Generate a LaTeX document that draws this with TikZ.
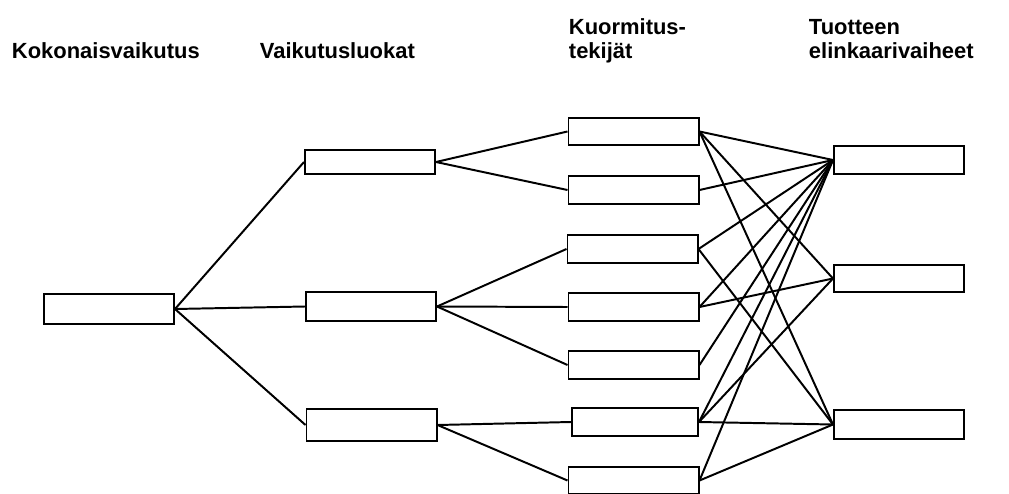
\documentclass[tikz,border=0pt]{standalone}
\usepackage{fontspec}
\setmainfont{Liberation Sans}
\begin{document}
\begin{tikzpicture}[
    x=0.025cm, y=-0.025cm,
    line width=1.4pt,
    box/.style={
        rectangle,
        draw=black,
        fill=white,
        line width=1.4pt,
        inner sep=0pt,
        minimum width=3.25cm,
        minimum height=0.68cm
    },
    head/.style={
        anchor=base west,
        align=left,
        inner xsep=0pt,
        font=\fontsize{15.6}{16.6}\selectfont\bfseries
    }
]
\useasboundingbox (0, 0) rectangle (1009, 494);

% Headings
\node[head] (h1) at (11, 58) {Kokonaisvaikutus};
\node[head] (h2) at (259, 58) {Vaikutusluokat};
\node[head] (h3) at (568, 58) {Kuormitus-\\tekijät};
\node[head] (h4) at (808, 58) {Tuotteen\\elinkaarivaiheet};

% Overall impact
\node[box, minimum height=0.75cm] (kok) at (109, 309) {};

% Impact categories
\node[box, minimum height=0.6cm] (vl1) at (370, 162) {};
\node[box, minimum height=0.72cm] (vl2) at (371, 306.5) {};
\node[box, minimum height=0.8cm] (vl3) at (371.5, 425) {};

% Load factors
\node[box] (kt1) at (633.5, 131.5) {};
\node[box] (kt2) at (633.5, 190) {};
\node[box] (kt3) at (632.5, 249) {};
\node[box] (kt4) at (633.5, 307) {};
\node[box] (kt5) at (633.5, 365) {};
\node[box, minimum width=3.15cm] (kt6) at (635, 422) {};
\node[box] (kt7) at (633.5, 480.5) {};

% Life cycle stages
\node[box] (ev1) at (899, 160) {};
\node[box] (ev2) at (899, 278.5) {};
\node[box, minimum height=0.72cm] (ev3) at (899, 424.5) {};

% Connections
\foreach \v in {vl1, vl2, vl3}
    \draw (kok.east) -- (\v.west);
\foreach \v/\k in {vl1/kt1, vl1/kt2, vl2/kt3, vl2/kt4, vl2/kt5, vl3/kt6, vl3/kt7}
    \draw (\v.east) -- (\k.west);
\foreach \k/\e in {kt1/ev1, kt1/ev2, kt1/ev3, kt2/ev1, kt3/ev1, kt3/ev3,
                   kt4/ev1, kt4/ev2, kt5/ev1, kt6/ev1, kt6/ev2, kt6/ev3,
                   kt7/ev1, kt7/ev3}
    \draw (\k.east) -- (\e.west);

\end{tikzpicture}
\end{document}
